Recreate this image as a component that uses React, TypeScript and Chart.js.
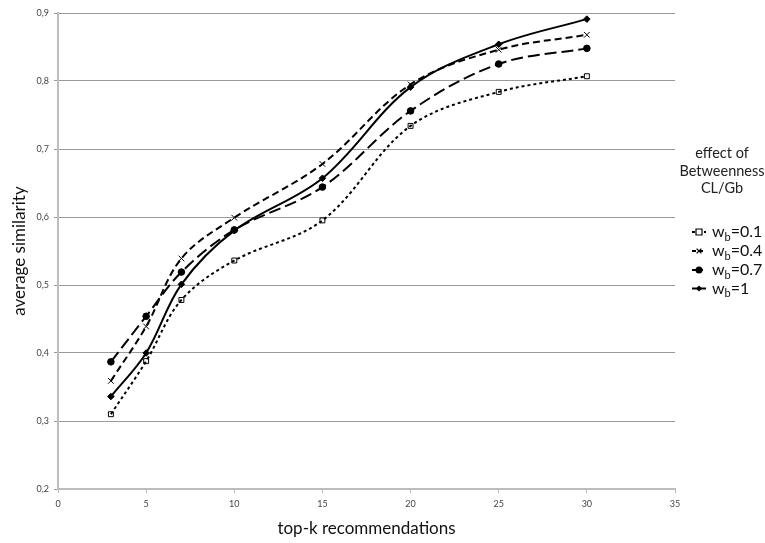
import React, { useEffect, useRef } from "react";
import { Chart, registerables } from "chart.js";

Chart.register(...registerables);

const topK = [3, 5, 7, 10, 15, 20, 25, 30];
const wb01 = [0.31, 0.388, 0.478, 0.536, 0.595, 0.734, 0.784, 0.807];
const wb04 = [0.359, 0.439, 0.539, 0.599, 0.678, 0.795, 0.846, 0.868];
const wb07 = [0.387, 0.454, 0.519, 0.581, 0.644, 0.756, 0.825, 0.848];
const wb1 = [0.336, 0.4, 0.501, 0.58, 0.657, 0.791, 0.854, 0.891];
const seriesLabels = ["0.1", "0.4", "0.7", "1"];
const legendTitle = ["effect of", "Betweenness", "CL/Gb"];
const xTitle = "top-k recommendations";
const yTitle = "average similarity";

const FONT = "Lato, 'Open Sans', sans-serif";

const styles = [
  { dash: [3, 3], point: "rect", radius: 3.5, fill: "rgba(0,0,0,0)" },
  { dash: [7, 4], point: "crossRot", radius: 4, fill: "#000" },
  { dash: [12, 5], point: "circle", radius: 3.3, fill: "#000" },
  { dash: [], point: "rectRot", radius: 3.3, fill: "#000" },
];

function drawMarker(ctx: CanvasRenderingContext2D, kind: string, x: number, y: number, r: number, fill: string) {
  ctx.save();
  ctx.setLineDash([]);
  ctx.lineWidth = 1.2;
  ctx.strokeStyle = "#000";
  ctx.fillStyle = fill;
  ctx.beginPath();
  if (kind === "rect") {
    ctx.rect(x - r, y - r, 2 * r, 2 * r);
    ctx.fillStyle = "#fff";
    ctx.fill();
    ctx.stroke();
  } else if (kind === "crossRot") {
    ctx.moveTo(x - r * 0.8, y - r * 0.8);
    ctx.lineTo(x + r * 0.8, y + r * 0.8);
    ctx.moveTo(x - r * 0.8, y + r * 0.8);
    ctx.lineTo(x + r * 0.8, y - r * 0.8);
    ctx.stroke();
  } else if (kind === "circle") {
    ctx.arc(x, y, r, 0, Math.PI * 2);
    ctx.fill();
  } else {
    ctx.moveTo(x, y - r);
    ctx.lineTo(x + r, y);
    ctx.lineTo(x, y + r);
    ctx.lineTo(x - r, y);
    ctx.closePath();
    ctx.fill();
  }
  ctx.restore();
}

const legendPlugin = {
  id: "customLegend",
  afterDraw(chart: any) {
    const ctx: CanvasRenderingContext2D = chart.ctx;
    ctx.save();
    ctx.fillStyle = "#222";
    ctx.textAlign = "center";
    ctx.textBaseline = "middle";
    ctx.font = `14.5px ${FONT}`;
    const titleY = [153, 171, 188.5];
    legendTitle.forEach((t, i) => ctx.fillText(t, 722, titleY[i]));
    const itemY = [232, 251, 270, 288.5];
    seriesLabels.forEach((lab, i) => {
      const y = itemY[i];
      const st = styles[i];
      ctx.save();
      ctx.strokeStyle = "#000";
      ctx.lineWidth = 2;
      ctx.setLineDash(st.dash.length ? [Math.min(st.dash[0], 4), 3] : []);
      ctx.beginPath();
      ctx.moveTo(692, y);
      ctx.lineTo(706, y);
      ctx.stroke();
      ctx.restore();
      drawMarker(ctx, st.point, 699, y, st.point === "circle" ? 3.5 : 3, st.fill);
      ctx.textAlign = "left";
      ctx.textBaseline = "middle";
      ctx.fillStyle = "#111";
      ctx.font = `16px ${FONT}`;
      let x = 712;
      ctx.fillText("w", x, y);
      x += ctx.measureText("w").width;
      ctx.font = `11px ${FONT}`;
      ctx.fillText("b", x, y + 5);
      x += ctx.measureText("b").width;
      ctx.font = `16px ${FONT}`;
      ctx.fillText("=" + lab, x, y);
    });
    ctx.restore();
  },
};

export default function App() {
  const ref = useRef<HTMLCanvasElement | null>(null);
  useEffect(() => {
    if (!ref.current) return;
    const all = [wb01, wb04, wb07, wb1];
    const chart = new Chart(ref.current, {
      type: "line",
      data: {
        datasets: all.map((vals, i) => ({
          label: "wb=" + seriesLabels[i],
          data: vals.map((v, j) => ({ x: topK[j], y: v })),
          borderColor: "#000",
          borderWidth: 2,
          borderDash: styles[i].dash,
          pointStyle: styles[i].point as any,
          pointRadius: styles[i].radius,
          pointBorderWidth: 1,
          pointBackgroundColor: styles[i].fill,
          pointBorderColor: "#000",
          tension: 0.35,
          fill: false,
        })),
      },
      options: {
        animation: false,
        responsive: false,
        maintainAspectRatio: false,
        layout: { padding: { top: 13, right: 90, left: 0, bottom: 0 } },
        plugins: {
          legend: { display: false },
          tooltip: { enabled: false },
        },
        scales: {
          x: {
            type: "linear",
            min: 0,
            max: 35,
            afterFit: (s: any) => {
              s.height = 54;
            },
            ticks: {
              stepSize: 5,
              font: { family: FONT, size: 9 },
              color: "#444",
              padding: 6,
              maxRotation: 0,
            },
            grid: {
              drawOnChartArea: false,
              drawTicks: true,
              tickLength: 4,
              color: "#b5b5b5",
            },
            border: { color: "#bdbdbd", width: 2 },
            title: {
              display: true,
              text: xTitle,
              font: { family: FONT, size: 17 },
              color: "#111",
              padding: { top: 0, bottom: 4 },
            },
          },
          y: {
            min: 0.2,
            max: 0.9,
            afterFit: (s: any) => {
              s.width = 58;
            },
            ticks: {
              stepSize: 0.1,
              font: { family: FONT, size: 9 },
              color: "#444",
              padding: 5,
              callback: (v: any) => Number(v).toFixed(1).replace(".", ","),
            },
            grid: {
              color: "#9a9a9a",
              lineWidth: 1,
              tickLength: 4,
              tickColor: "#9a9a9a",
            },
            border: { color: "#bdbdbd", width: 2 },
            title: {
              display: true,
              text: yTitle,
              font: { family: FONT, size: 17 },
              color: "#111",
              padding: { top: 9, bottom: 0 },
            },
          },
        },
      },
      plugins: [legendPlugin],
    });
    return () => chart.destroy();
  }, []);
  return (
    <div style={{ position: "absolute", left: 0, top: 0, width: 765, height: 543, background: "#fff" }}>
      <canvas ref={ref} width={765} height={543} style={{ display: "block" }} />
    </div>
  );
}
